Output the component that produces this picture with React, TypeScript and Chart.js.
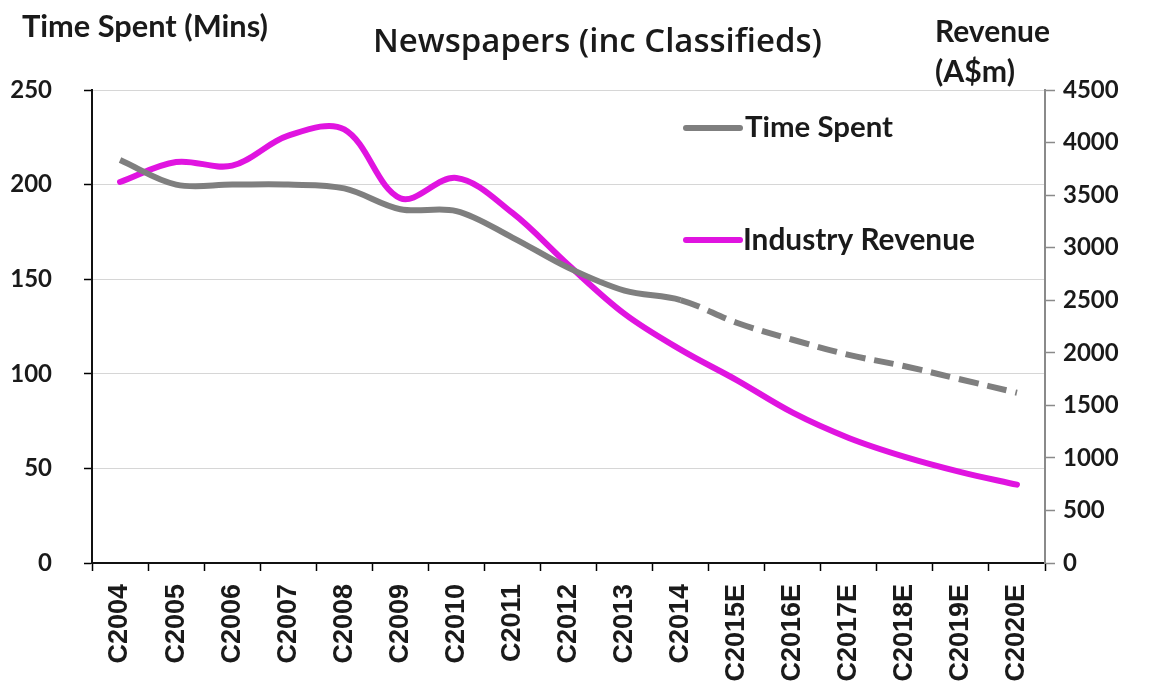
import React, { useEffect, useRef } from 'react';
import { Chart, registerables } from 'chart.js';

Chart.register(...registerables);

const categories = [
  'C2004', 'C2005', 'C2006', 'C2007', 'C2008', 'C2009', 'C2010', 'C2011', 'C2012',
  'C2013', 'C2014', 'C2015E', 'C2016E', 'C2017E', 'C2018E', 'C2019E', 'C2020E',
];
const timeSpent = [213, 200, 200, 200, 198, 187, 186, 172, 156, 144, 139, 127, 118, 110, 104, 97, 90];
const industryRevenue = [3625, 3815, 3780, 4065, 4125, 3470, 3663, 3330, 2835, 2370, 2030, 1740, 1430, 1190, 1010, 865, 745];
const lastActualIndex = 10; // C2014; afterwards the time-spent line is dashed (estimates)

const titleText = 'Newspapers (inc Classifieds)';
const leftAxisTitle = 'Time Spent (Mins)';
const rightAxisTitle = ['Revenue', '(A$m)'];
const legendLabels = ['Time Spent', 'Industry Revenue'];

const GRAY = '#7f7f7f';
const MAGENTA = '#e014e0';
const TEXT = '#1a1a1a';

function fitText(
  ctx: CanvasRenderingContext2D,
  text: string,
  x: number,
  yMid: number,
  width: number,
  weight: string,
  family: string,
  align: CanvasTextAlign = 'left'
) {
  ctx.font = `${weight} 100px ${family}`;
  const w = ctx.measureText(text).width;
  const size = (100 * width) / w;
  ctx.font = `${weight} ${size}px ${family}`;
  ctx.textBaseline = 'middle';
  ctx.textAlign = align;
  ctx.fillStyle = TEXT;
  ctx.fillText(text, x, yMid);
}

const textPlugin = {
  id: 'textPlugin',
  afterDraw(chart: any) {
    const ctx: CanvasRenderingContext2D = chart.ctx;
    ctx.save();
    fitText(ctx, leftAxisTitle, 22, 27, 246, 'bold', 'Lato');
    fitText(ctx, titleText, 373, 43, 449, '600', '"Open Sans"');
    fitText(ctx, rightAxisTitle[0], 935, 32, 115, 'bold', 'Lato');
    fitText(ctx, rightAxisTitle[1], 935, 72, 80, 'bold', 'Lato');

    // legend
    const entries = [
      { label: legendLabels[0], color: GRAY, y: 128, x: 745, w: 148 },
      { label: legendLabels[1], color: MAGENTA, y: 240, x: 743, w: 232 },
    ];
    entries.forEach((e) => {
      ctx.beginPath();
      ctx.strokeStyle = e.color;
      ctx.lineWidth = 6;
      ctx.lineCap = 'round';
      ctx.moveTo(686, e.y);
      ctx.lineTo(740, e.y);
      ctx.stroke();
      fitText(ctx, e.label, e.x, e.y, e.w, 'bold', 'Lato');
    });
    ctx.restore();
  },
};

export default function App() {
  const canvasRef = useRef<HTMLCanvasElement | null>(null);

  useEffect(() => {
    if (!canvasRef.current) return;
    const chart = new Chart(canvasRef.current, {
      type: 'line',
      data: {
        labels: categories,
        datasets: [
          {
            label: legendLabels[0],
            data: timeSpent,
            yAxisID: 'y',
            borderColor: GRAY,
            backgroundColor: GRAY,
            borderWidth: 6,
            pointRadius: 0,
            tension: 0.35,
            borderCapStyle: 'butt',
            segment: {
              borderDash: (c: any) => (c.p0DataIndex >= lastActualIndex ? [20, 9] : undefined),
            },
          } as any,
          {
            label: legendLabels[1],
            data: industryRevenue,
            yAxisID: 'y1',
            borderColor: MAGENTA,
            backgroundColor: MAGENTA,
            borderWidth: 6,
            pointRadius: 0,
            tension: 0.35,
            borderCapStyle: 'round',
          } as any,
        ],
      },
      options: {
        responsive: false,
        animation: false,
        layout: { padding: { top: 90, left: 0, right: 0, bottom: 0 } },
        plugins: {
          legend: { display: false },
          title: { display: false },
          tooltip: { enabled: false },
        },
        scales: {
          x: {
            type: 'category',
            offset: true,
            grid: {
              offset: true,
              drawOnChartArea: false,
              drawTicks: true,
              tickLength: 8,
              tickColor: '#000',
              tickWidth: 1.5,
            },
            border: { color: '#111', width: 2 },
            ticks: {
              autoSkip: false,
              minRotation: 90,
              maxRotation: 90,
              padding: 13,
              color: TEXT,
              font: { family: '"Liberation Sans", Arial, sans-serif', size: 27, weight: 'bold' },
            },
            afterFit: (s: any) => {
              s.height = 119;
              s.paddingLeft = 0;
              s.paddingRight = 0;
            },
          },
          y: {
            position: 'left',
            min: 0,
            max: 250,
            ticks: {
              stepSize: 50,
              padding: 32,
              color: TEXT,
              font: { family: 'Lato, sans-serif', size: 24, weight: 'bold' },
              callback: (v: any) => String(v),
            },
            grid: {
              color: '#d6d6d6',
              lineWidth: 1,
              drawTicks: true,
              tickLength: 8,
              tickColor: '#000',
              tickWidth: 1.5,
            },
            border: { color: '#111', width: 2 },
            afterFit: (s: any) => {
              s.width = 92;
              s.paddingTop = 0;
              s.paddingBottom = 0;
            },
          },
          y1: {
            position: 'right',
            min: 0,
            max: 4500,
            ticks: {
              stepSize: 500,
              padding: 8,
              color: TEXT,
              font: { family: 'Lato, sans-serif', size: 24, weight: 'bold' },
              callback: (v: any) => String(v),
            },
            grid: {
              drawOnChartArea: false,
              drawTicks: true,
              tickLength: 10,
              tickColor: '#8a8a8a',
              tickWidth: 1.5,
            },
            border: { color: '#8a8a8a', width: 2 },
            afterFit: (s: any) => {
              s.width = 105;
              s.paddingTop = 0;
              s.paddingBottom = 0;
            },
          },
        },
      } as any,
      plugins: [textPlugin],
    });
    return () => chart.destroy();
  }, []);

  return (
    <div style={{ position: 'absolute', left: 0, top: 0, width: 1150, height: 682, background: '#fff' }}>
      <canvas ref={canvasRef} width={1150} height={682} style={{ width: 1150, height: 682 }} />
    </div>
  );
}
